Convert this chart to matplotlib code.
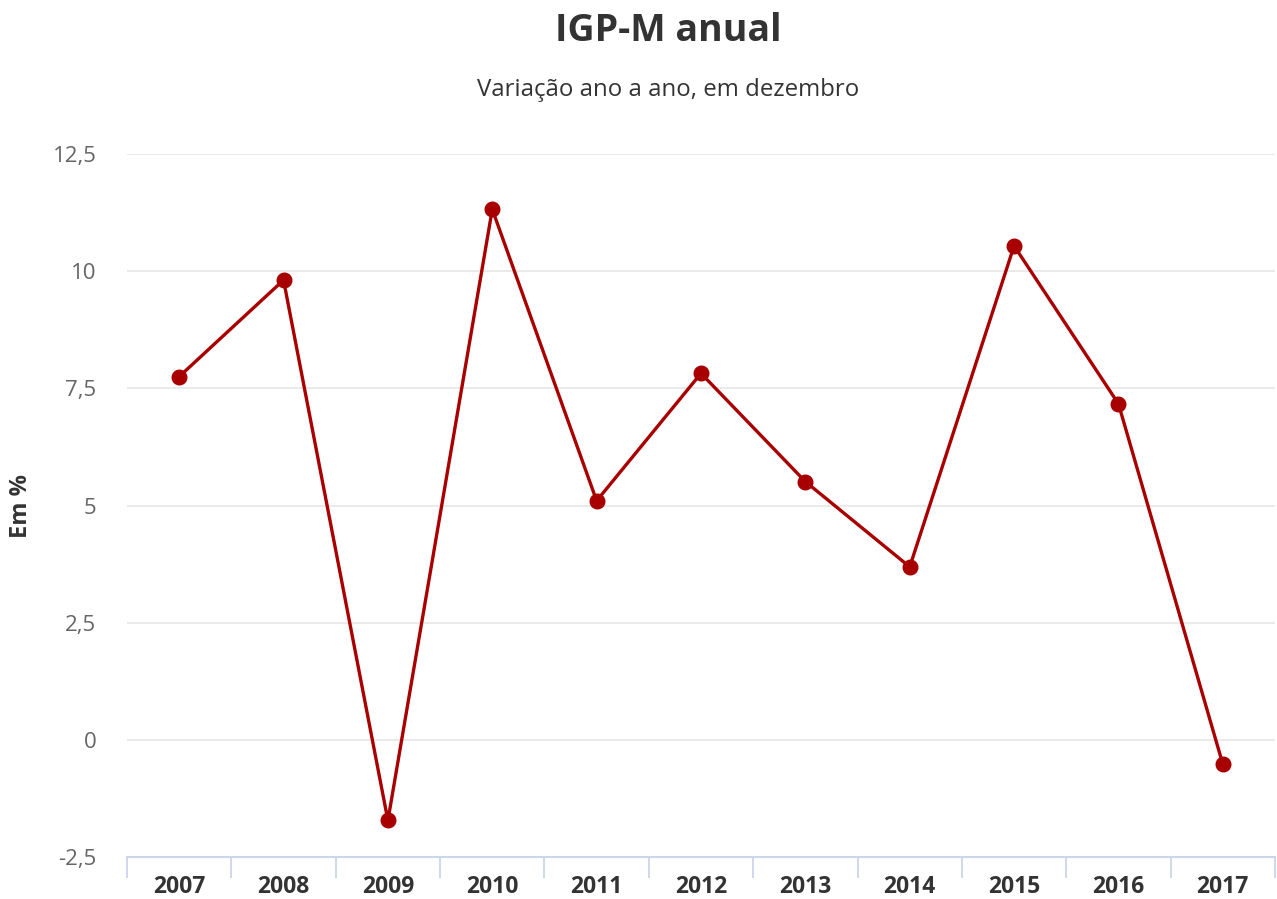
import matplotlib.pyplot as plt
import numpy as np

plt.rcParams['font.family'] = ['Open Sans', 'DejaVu Sans']

# Data
years = ['2007', '2008', '2009', '2010', '2011', '2012', '2013', '2014', '2015', '2016', '2017']
igpm = [7.75, 9.81, -1.72, 11.32, 5.10, 7.82, 5.51, 3.69, 10.54, 7.17, -0.52]
yticks = [-2.5, 0, 2.5, 5, 7.5, 10, 12.5]
ytick_labels = ['-2,5', '0', '2,5', '5', '7,5', '10', '12,5']

fig = plt.figure(figsize=(12.77, 8.99), dpi=100)
ax = fig.add_axes([127 / 1277, 42 / 899, 1148 / 1277, 703 / 899])

x = np.arange(len(years))
ax.plot(x, igpm, color='#a80000', linewidth=2.4, marker='o', markersize=10.5, zorder=3)

ax.set_xlim(-0.5, len(years) - 0.5)
ax.set_ylim(-2.5, 12.5)

# Grid lines
ax.set_yticks(yticks)
ax.set_yticklabels(ytick_labels, fontsize=16, color='#666666')
ax.yaxis.grid(True, color='#e6e6e6', linewidth=1.2)
ax.set_axisbelow(True)
ax.tick_params(axis='y', length=0, pad=22)
for lbl in ax.get_yticklabels():
    lbl.set_va('center_baseline')

# Category axis with ticks at band edges
ax.set_xticks(x)
ax.set_xticklabels(years, fontsize=16.5, fontweight='bold', color='#333333')
ax.set_xticks(np.arange(-0.5, len(years)), minor=True)
ax.tick_params(axis='x', which='major', length=0, pad=13)
ax.tick_params(axis='x', which='minor', length=15, width=1.3, color='#ccd6eb', direction='out')

for side in ['top', 'right', 'left']:
    ax.spines[side].set_visible(False)
ax.spines['bottom'].set_color('#ccd6eb')
ax.spines['bottom'].set_linewidth(1.5)

ax.set_ylabel('Em %', fontsize=17, fontweight='bold', color='#333333', va='center')
ax.yaxis.set_label_coords(-0.0923, 0.50)

fig.text(0.523, 0.966, 'IGP-M anual', ha='center', va='center', fontsize=27,
         fontweight='bold', color='#333333')
fig.text(0.523, 0.900, 'Variação ano a ano, em dezembro', ha='center', va='center',
         fontsize=17.3, color='#333333')

fig.savefig('out.png', dpi=100)
